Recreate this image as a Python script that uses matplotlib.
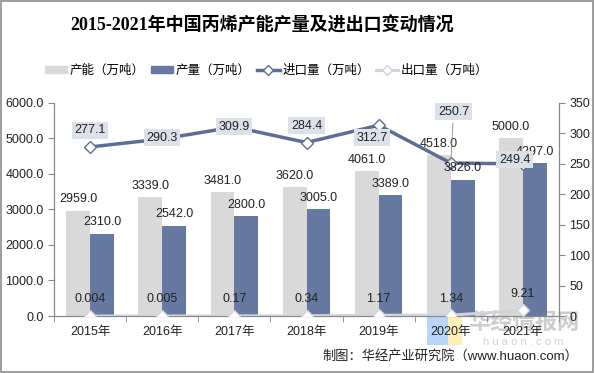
import matplotlib.pyplot as plt
from matplotlib.patches import Rectangle
from matplotlib.lines import Line2D
import numpy as np

years = ["2015年", "2016年", "2017年", "2018年", "2019年", "2020年", "2021年"]
capacity = [2959.0, 3339.0, 3481.0, 3620.0, 4061.0, 4518.0, 5000.0]
output = [2310.0, 2542.0, 2800.0, 3005.0, 3389.0, 3826.0, 4297.0]
imports = [277.1, 290.3, 309.9, 284.4, 312.7, 250.7, 249.4]
exports = [0.004, 0.005, 0.17, 0.34, 1.17, 1.34, 9.21]
export_txt = ["0.004", "0.005", "0.17", "0.34", "1.17", "1.34", "9.21"]

sans = ["Liberation Sans", "Noto Sans CJK SC"]
plt.rcParams["font.family"] = sans

c_gray = "#D9D9D9"
c_blue = "#667AA1"
c_line = "#5D6E96"
c_exp = "#CFD3DB"
c_box = "#DCE0E9"

fig = plt.figure(figsize=(5.95, 3.73), dpi=100)
ax = fig.add_axes([0.0908, 0.1528, 0.8487, 0.5724])
ax2 = ax.twinx()
ax.patch.set_visible(False)
ax2.patch.set_visible(False)

x = np.arange(len(years))
w = 0.33
b1 = ax.bar(x - w / 2, capacity, w, color=c_gray, zorder=2)
b2 = ax.bar(x + w / 2, output, w, color=c_blue, zorder=2)

for xi, v in zip(x, capacity):
    ax.annotate(f"{v:.1f}", (xi - w / 2, v), xytext=(0, 4), textcoords="offset points",
                ha="center", va="bottom", fontsize=9, color="#222222", zorder=3)

ax.set_ylim(0, 6000)
ax.set_yticks(np.arange(0, 6001, 1000))
ax.set_yticklabels([f"{t:.1f}" for t in np.arange(0, 6001, 1000)])
ax.set_xlim(-0.5, len(years) - 0.5)
ax.set_xticks(x)
ax.set_xticklabels(years, fontsize=9)
ax.set_xticks(np.arange(-0.5, len(years), 1), minor=True)
ax.tick_params(axis="x", which="major", length=0, pad=7, colors="#222222")
ax.tick_params(axis="x", which="minor", length=4, color="#888888")
ax.tick_params(axis="y", labelsize=9, length=4, color="#888888", labelcolor="#222222")

ax2.set_ylim(0, 350)
ax2.set_yticks(np.arange(0, 351, 50))
ax2.tick_params(axis="y", labelsize=9, length=4, color="#888888", labelcolor="#222222")

for a in (ax, ax2):
    a.spines["top"].set_visible(False)
    for s in ("left", "right", "bottom"):
        a.spines[s].set_color("#888888")
        a.spines[s].set_linewidth(0.8)

ax2.plot(x, exports, color=c_exp, lw=2.2, marker="D", ms=6, mfc="white", mec=c_exp, zorder=4)
ax2.plot(x, imports, color=c_line, lw=2.5, marker="D", ms=6, mfc="white", mec=c_line, zorder=5)

# output labels drawn above the lines, as in the reference
for xi, v in zip(x, output):
    ax2.annotate(f"{v:.1f}", (xi + w / 2, v * 350 / 6000), xytext=(0, 4), textcoords="offset points",
                 ha="center", va="bottom", fontsize=9, color="#222222", zorder=5.5)

offs = [(0, 12), (0, 1), (0, 0), (0, 12), (-5, -9), (2, 37), (-6, 3)]
for xi, v, o in zip(x, imports, offs):
    arrow = dict(arrowstyle="-", color="#888888", lw=0.6) if o[1] > 20 else None
    ax2.annotate(f"{v:.1f}", (xi, v), xytext=o, textcoords="offset points",
                 ha="center", va="center", fontsize=9, color="#222222", zorder=6,
                 bbox=dict(boxstyle="square,pad=0.2", fc=c_box, ec="none"),
                 arrowprops=arrow)
for xi, v, t in zip(x, exports, export_txt):
    ax2.annotate(t, (xi, v), xytext=(0, 12), textcoords="offset points",
                 ha="center", va="center", fontsize=9, color="#222222", zorder=6)

handles = [
    Rectangle((0, 0), 1, 1, color=c_gray),
    Rectangle((0, 0), 1, 1, color=c_blue),
    Line2D([], [], color=c_line, lw=2.5, marker="D", ms=5, mfc="white", mec=c_line),
    Line2D([], [], color=c_exp, lw=2.2, marker="D", ms=5, mfc="white", mec=c_exp),
]
labels = ["产能（万吨）", "产量（万吨）", "进口量（万吨）", "出口量（万吨）"]
fig.legend(handles, labels, loc="center", bbox_to_anchor=(0.448, 0.81), ncol=4,
           frameon=False, fontsize=9, handlelength=1.8, handleheight=0.5,
           columnspacing=0.5, handletextpad=0.2)

fig.text(0.44, 0.933, "2015-2021年中国丙烯产能产量及进出口变动情况", ha="center", va="center",
         fontsize=13, fontweight="bold", family=["Liberation Serif", "Noto Sans CJK SC"])

# watermark, kept behind the axes
fig.patches.append(Rectangle((427 / 595, 1 - 345 / 373), 21 / 595, 28 / 373, transform=fig.transFigure,
                             fc="#A8CBF7", ec="none", alpha=0.8, zorder=-2))
fig.patches.append(Rectangle((448 / 595, 1 - 345 / 373), 14 / 595, 28 / 373, transform=fig.transFigure,
                             fc="#FBEAA8", ec="none", alpha=0.8, zorder=-2))
fig.text(0.88, 1 - 323 / 373, "华经情报网", ha="center", va="center", fontsize=16,
         fontweight="bold", color="#C4C4C4", alpha=0.85, zorder=-1)
fig.text(0.88, 1 - 342 / 373, "h u a o n . c o m", ha="center", va="center", fontsize=8,
         color="#D2D2D2", zorder=-1)

fig.text(0.972, 1 - 356 / 373, "制图：华经产业研究院（www.huaon.com）", ha="right", va="center",
         fontsize=9.5, color="#222222")

fig.patches.append(Rectangle((0.002, 0.003), 0.995, 0.994, transform=fig.transFigure,
                             fill=False, ec="#8C8C8C", lw=1.2))

fig.savefig("out.png", dpi=100)
